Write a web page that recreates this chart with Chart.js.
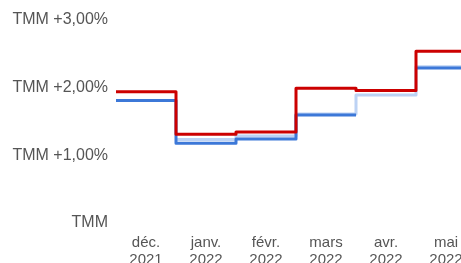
<!DOCTYPE html>
<html>
<head>
<meta charset="utf-8">
<script src="https://cdn.jsdelivr.net/npm/chart.js@4.4.1/dist/chart.umd.min.js"></script>
<style>
  html, body { margin: 0; padding: 0; background: #fff; overflow: hidden; }
  #wrap { position: relative; width: 490px; height: 275px; }
</style>
</head>
<body>
<div id="wrap"><canvas id="chart"></canvas></div>
<script>
// ---------- Data ----------
const months = [['déc.', '2021'], ['janv.', '2022'], ['févr.', '2022'], ['mars', '2022'], ['avr.', '2022'], ['mai', '2022']];
const redValues = [1.94, 1.31, 1.345, 1.99, 1.958, 2.54];
const blueValues = [1.81, 1.18, 1.24, 1.596, null, 2.29];
const lightValues = [null, 1.235, 1.285, 1.61, 1.89, 2.31];
const yTickLabels = ['TMM', 'TMM +1,00%', 'TMM +2,00%', 'TMM +3,00%'];

// each month is a flat step from its left edge to its right edge
function toSteps(values) {
    const pts = [];
    values.forEach((v, i) => {
        pts.push({ x: i - 0.5, y: v });
        pts.push({ x: i + 0.5, y: v });
    });
    return pts;
}

function lineSet(values, color, order) {
    return {
        data: toSteps(values),
        borderColor: color,
        borderWidth: 3,
        borderJoinStyle: 'round',
        pointRadius: 0,
        fill: false,
        order: order
    };
}

// ---------- Chart ----------
const labelFont = "Arial, 'Liberation Sans', sans-serif";
const ctx = document.getElementById('chart').getContext('2d');
new Chart(ctx, {
    type: 'line',
    data: {
        datasets: [
            lineSet(redValues, '#cc0000', 0),
            lineSet(blueValues, '#3c78d8', 1),
            lineSet(lightValues, '#bcd2f4', 2)
        ]
    },
    options: {
        responsive: true,
        maintainAspectRatio: false,
        animation: false,
        layout: { padding: { top: 20, right: 14, left: 0, bottom: 0 } },
        plugins: { legend: { display: false }, tooltip: { enabled: false } },
        scales: {
            x: {
                type: 'linear',
                min: -0.5,
                max: 5.5,
                grid: { display: false },
                border: { display: false },
                afterBuildTicks: scale => { scale.ticks = months.map((m, i) => ({ value: i })); },
                afterFit: scale => { scale.height = 52; },
                ticks: {
                    autoSkip: false,
                    maxRotation: 0,
                    padding: 3,
                    color: '#555',
                    font: { family: labelFont, size: 15, lineHeight: 1.15 },
                    callback: (v, i) => months[i]
                }
            },
            y: {
                min: 0,
                max: 3,
                grid: { display: false },
                border: { display: false },
                afterBuildTicks: scale => { scale.ticks = yTickLabels.map((l, i) => ({ value: i })); },
                afterFit: scale => { scale.width = 116; },
                ticks: {
                    padding: 0,
                    color: '#555',
                    font: { family: labelFont, size: 16 },
                    callback: (v, i) => yTickLabels[i]
                }
            }
        }
    }
});
</script>
</body>
</html>
